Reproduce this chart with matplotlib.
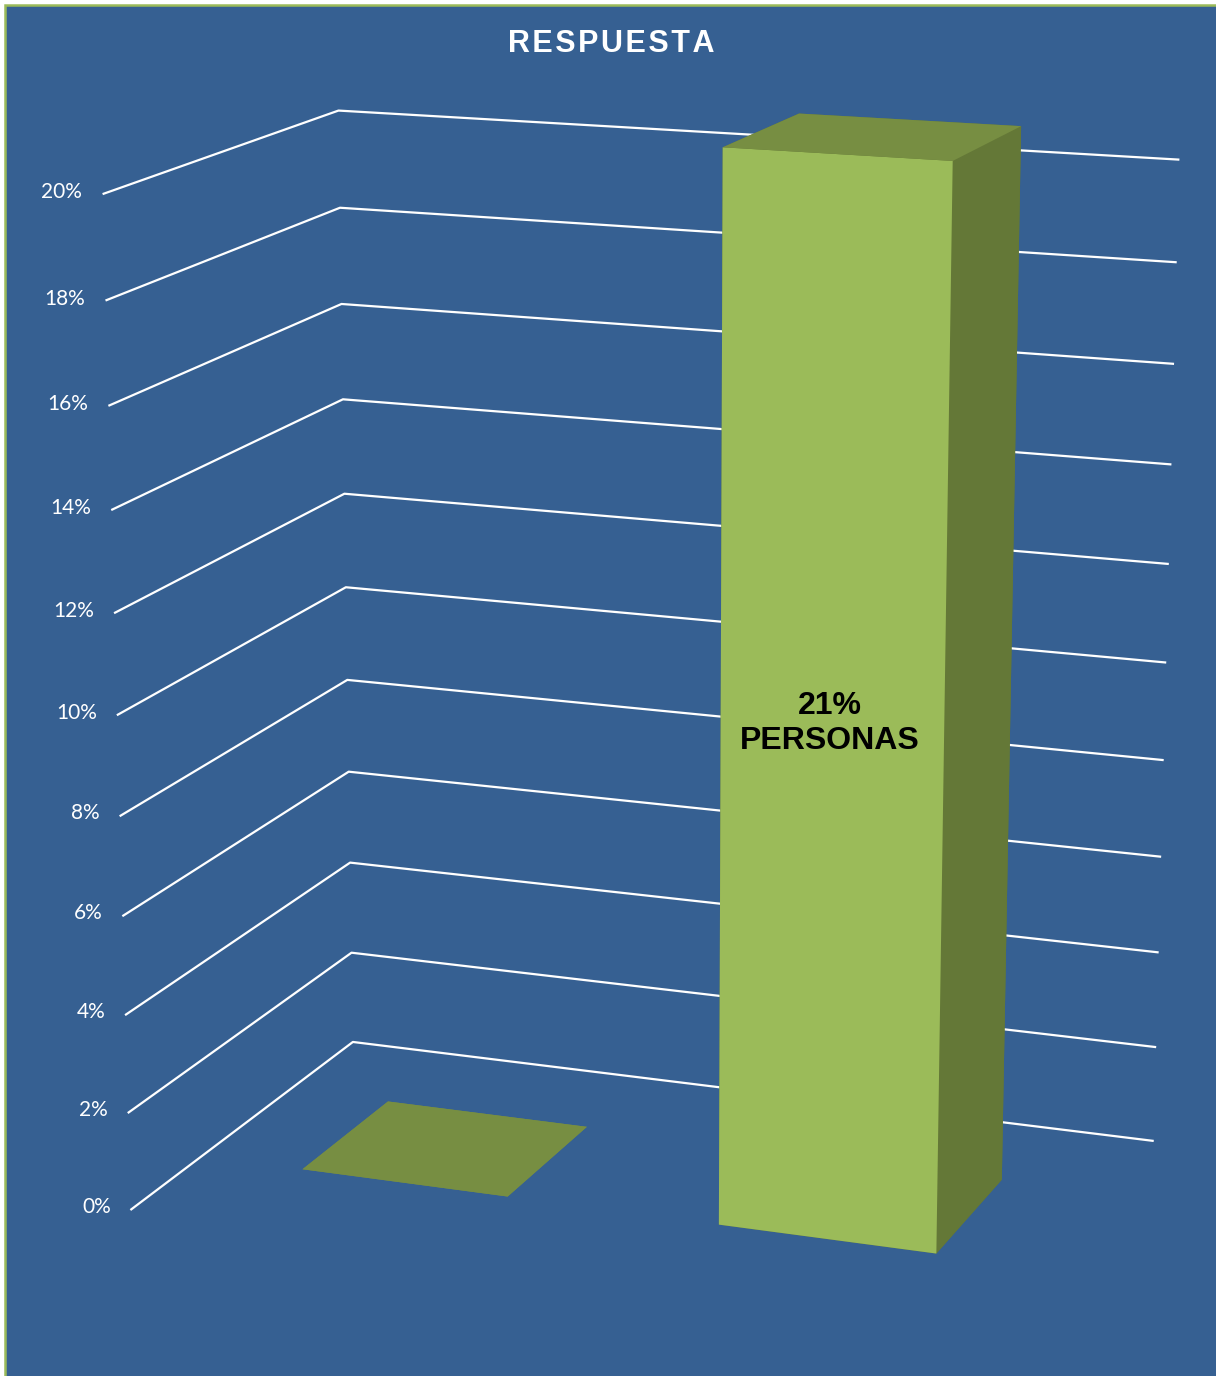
import matplotlib
matplotlib.use('Agg')
import matplotlib.pyplot as plt
from matplotlib.patches import Rectangle
import numpy as np

# chart data
categories = ['A', 'B']
values = [0.0, 0.21]
ticks = [0.00, 0.02, 0.04, 0.06, 0.08, 0.10, 0.12, 0.14, 0.16, 0.18, 0.20]
tick_labels = ['0%', '2%', '4%', '6%', '8%', '10%', '12%', '14%', '16%', '18%', '20%']
bar_note = 'PERSONAS'
title = 'RESPUESTA'

BG = '#366092'
BORDER = '#9BBB59'
FRONT = '#9BBB59'
SIDE = '#647837'
TOP = '#778E42'

fig = plt.figure(figsize=(12.16, 13.76), dpi=100)
fig.patch.set_facecolor('white')
fig.patches.append(Rectangle((5 / 1216, -0.01), 1.02, 1.01 - 5 / 1376,
                             transform=fig.transFigure, fc=BG, ec=BORDER,
                             lw=1.8, zorder=-5))

ax = fig.add_axes([0.022, -0.012, 1.0, 1.0], projection='3d', computed_zorder=False)
ax.set_proj_type('persp', focal_length=0.8)
ax.view_init(elev=15, azim=-69.5)
ax.set_xlim(0, 2)
ax.set_ylim(0, 1)
ax.set_zlim(0, 0.2)
ax.set_box_aspect((1.965, 1.2, 2.23), zoom=1.185)
ax.set_axis_off()
ax.patch.set_alpha(0)

# walls: side wall at x=0, back wall at y=1
for t, lab in zip(ticks, tick_labels):
    ax.plot([0, 0, len(categories)], [0, 1, 1], [t, t, t], color='white', lw=1.6, zorder=1)
    ax.text(-0.05, 0, t, lab, ha='right', va='center', color='white',
            fontsize=15, family='Lato', zorder=3)

# bars
w, d = 0.5, 0.4
for i, v in enumerate(values):
    x0 = i + 0.5 - w / 2
    y0 = 0.5 - d / 2
    if v == 0:
        cols = [TOP] * 6
    else:
        # bottom, top, front, back, left, right
        cols = [SIDE, TOP, FRONT, SIDE, SIDE, SIDE]
    ax.bar3d(x0, y0, 0, w, d, v, color=cols, shade=False, zorder=2,
             edgecolor='none')

ax.text(1.5, 0.5 - d / 2 - 0.01, values[1] * 0.49,
        f'{values[1] * 100:.0f}%\n{bar_note}', ha='center', va='center',
        fontsize=23, fontweight='bold', family='Liberation Sans',
        color='black', zorder=4)

fig.text(0.503, 1 - 44 / 1376, '\u200a'.join(title), ha='center', va='center',
         fontsize=22, fontweight='bold', family='Liberation Sans', color='white')

fig.savefig('out.png', dpi=100, facecolor=fig.get_facecolor())
